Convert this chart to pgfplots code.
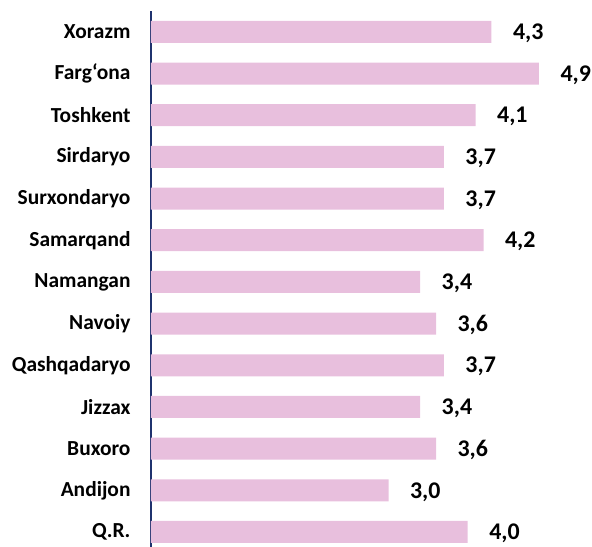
\documentclass[border=0pt]{standalone}
\usepackage{fontspec}
\setmainfont{Carlito}
\usepackage{pgfplots}
\pgfplotsset{compat=1.18}
\definecolor{barpink}{RGB}{232,191,221}
\definecolor{axisnavy}{RGB}{31,50,110}
\begin{document}
\begin{tikzpicture}
\path[use as bounding box] (-151bp,0) rectangle (441bp,547bp);
\begin{axis}[
  scale only axis,
  width=388bp, height=536bp,
  xmin=0, xmax=4.9,
  ymin=-0.36, ymax=12.5,
  xbar, bar width=22bp,
  axis y line=left,
  axis x line=none,
  y axis line style={-, draw=axisnavy, line width=1.6bp},
  xtick=\empty,
  ytick={0,...,12},
  major tick length=0pt,
  yticklabels={Q.R., Andijon, Buxoro, Jizzax, Qashqadaryo, Navoiy, Namangan, Samarqand, Surxondaryo, Sirdaryo, Toshkent, Farg‘ona, Xorazm},
  yticklabel style={font=\fontsize{21.5}{24}\selectfont\bfseries, xshift=-17bp},
  nodes near coords={\pgfmathprintnumber[fixed,zerofill,precision=1,use comma,assume math mode=true]{\pgfplotspointmeta}},
  every node near coord/.append style={font=\fontsize{24}{27}\selectfont\bfseries, anchor=west, xshift=18bp, yshift=-1.5bp},
]
\addplot[fill=barpink, draw=none] coordinates {
  (4.0,0) (3.0,1) (3.6,2) (3.4,3) (3.7,4) (3.6,5) (3.4,6)
  (4.2,7) (3.7,8) (3.7,9) (4.1,10) (4.9,11) (4.3,12)
};
\end{axis}
\end{tikzpicture}
\end{document}
